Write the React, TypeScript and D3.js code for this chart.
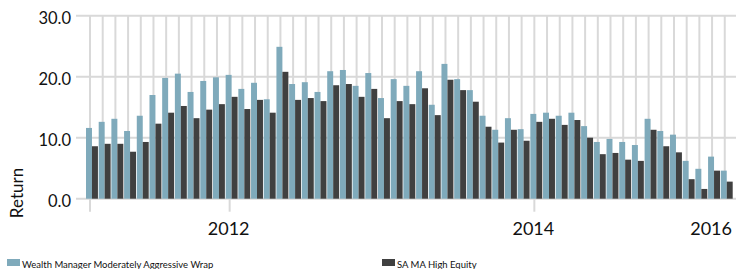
import React, { useRef, useEffect } from 'react';
import * as d3 from 'd3';

// monthly periods, Feb 2011 .. Apr 2015
const months: string[] = d3
  .timeMonth.range(new Date(2011, 1, 1), new Date(2015, 4, 1))
  .map(d => d3.timeFormat('%Y-%m')(d));

const seriesNames = ['Wealth Manager Moderately Aggressive Wrap', 'SA MA High Equity'];

const wrapReturns = [
  11.6, 12.6, 13.1, 11.1, 13.6, 17.0, 19.8, 20.5, 17.5, 19.3,
  19.9, 20.3, 18.0, 19.0, 16.3, 24.9, 18.8, 19.1, 17.5, 20.9,
  21.1, 18.5, 20.6, 16.5, 19.6, 18.5, 20.9, 15.4, 22.1, 19.6,
  17.8, 13.6, 11.3, 13.2, 11.4, 13.9, 14.1, 13.6, 14.1, 11.9,
  9.3, 9.8, 9.3, 8.8, 13.1, 11.1, 10.5, 6.2, 4.9, 6.9, 4.6,
];

const equityReturns = [
  8.6, 9.0, 9.0, 7.7, 9.3, 12.3, 14.1, 15.2, 13.2, 14.6,
  15.5, 16.7, 14.7, 16.2, 14.1, 20.8, 16.2, 16.5, 16.0, 18.6,
  18.8, 16.7, 18.0, 13.2, 16.0, 15.5, 18.1, 13.7, 19.5, 17.8,
  15.9, 11.8, 9.2, 11.3, 9.5, 12.6, 13.1, 12.1, 12.9, 10.0,
  7.3, 7.5, 6.4, 6.2, 11.3, 8.6, 7.6, 3.2, 1.6, 4.6, 2.8,
];

const yTicks = [0, 10, 20, 30];
const xTickMonths = ['2011-02', '2012-01', '2014-01'];
const xLabels = [
  { month: '2012-01', text: '2012' },
  { month: '2014-01', text: '2014' },
  { month: '2015-03', text: '2016' },
];

const colors = ['#7faabb', '#404040'];
const gridColor = '#d9d9d9';
const font = 'Lato, "Open Sans", sans-serif';

export default function App() {
  const svgRef = useRef<SVGSVGElement>(null);

  useEffect(() => {
    if (!svgRef.current) return;
    const W = 736, H = 269;
    const svg = d3.select(svgRef.current).attr('width', W).attr('height', H);
    svg.selectAll('*').remove();

    const x = d3.scaleBand<string>().domain(months).range([86, 732.7]).paddingInner(0.06).paddingOuter(0);
    const xs = d3.scaleBand<string>().domain(seriesNames).range([0, x.bandwidth()]);
    const y = d3.scaleLinear().domain([0, 30]).range([198.7, 15.7]);
    const gridX = (m: string) => (x(m) as number) + 4;

    // horizontal grid
    svg.append('g').selectAll('line').data(yTicks).join('line')
      .attr('x1', 76).attr('x2', W)
      .attr('y1', d => y(d)).attr('y2', d => y(d))
      .attr('stroke', gridColor).attr('stroke-width', 2);

    // vertical grid, one per month
    svg.append('g').selectAll('line').data(months).join('line')
      .attr('x1', d => gridX(d)).attr('x2', d => gridX(d))
      .attr('y1', y(30)).attr('y2', y(0))
      .attr('stroke', gridColor).attr('stroke-width', 2);

    // axis ticks
    svg.append('g').selectAll('line').data(xTickMonths).join('line')
      .attr('x1', d => gridX(d)).attr('x2', d => gridX(d))
      .attr('y1', y(0)).attr('y2', y(0) + 13)
      .attr('stroke', gridColor).attr('stroke-width', 2);

    // bars
    const rows = months.map((m, i) => ({ m, vals: [wrapReturns[i], equityReturns[i]] }));
    const g = svg.append('g');
    rows.forEach(r => {
      r.vals.forEach((v, k) => {
        g.append('rect')
          .attr('x', (x(r.m) as number) + (xs(seriesNames[k]) as number))
          .attr('width', xs.bandwidth())
          .attr('y', y(v))
          .attr('height', y(0) - y(v))
          .attr('fill', colors[k]);
      });
    });

    // y labels
    svg.append('g').selectAll('text').data(yTicks).join('text')
      .attr('x', 71).attr('y', d => y(d) + 2)
      .attr('text-anchor', 'end').attr('dominant-baseline', 'central')
      .attr('font-family', font).attr('font-size', 16.5).attr('fill', '#111')
      .text(d => d.toFixed(1));

    svg.append('text')
      .attr('transform', `translate(23,193) rotate(-90)`)
      .attr('text-anchor', 'middle')
      .attr('font-family', font).attr('font-size', 17).attr('fill', '#111')
      .text('Return');

    // x labels
    svg.append('g').selectAll('text').data(xLabels).join('text')
      .attr('x', d => gridX(d.month) - 1).attr('y', 235)
      .attr('text-anchor', 'middle')
      .attr('font-family', font).attr('font-size', 18).attr('fill', '#111')
      .text(d => d.text);

    // legend
    const legendX = [7, 382];
    seriesNames.forEach((name, k) => {
      svg.append('rect').attr('x', legendX[k]).attr('y', 259).attr('width', 13).attr('height', 7).attr('fill', colors[k]);
      svg.append('text')
        .attr('x', legendX[k] + 15).attr('y', 268)
        .attr('font-family', font).attr('font-size', 9.5).attr('fill', '#111')
        .text(name);
    });
  }, []);

  return (
    <div style={{ position: 'absolute', left: 0, top: 0, width: 736, height: 269, background: '#fff' }}>
      <svg ref={svgRef} style={{ display: 'block' }} />
    </div>
  );
}
